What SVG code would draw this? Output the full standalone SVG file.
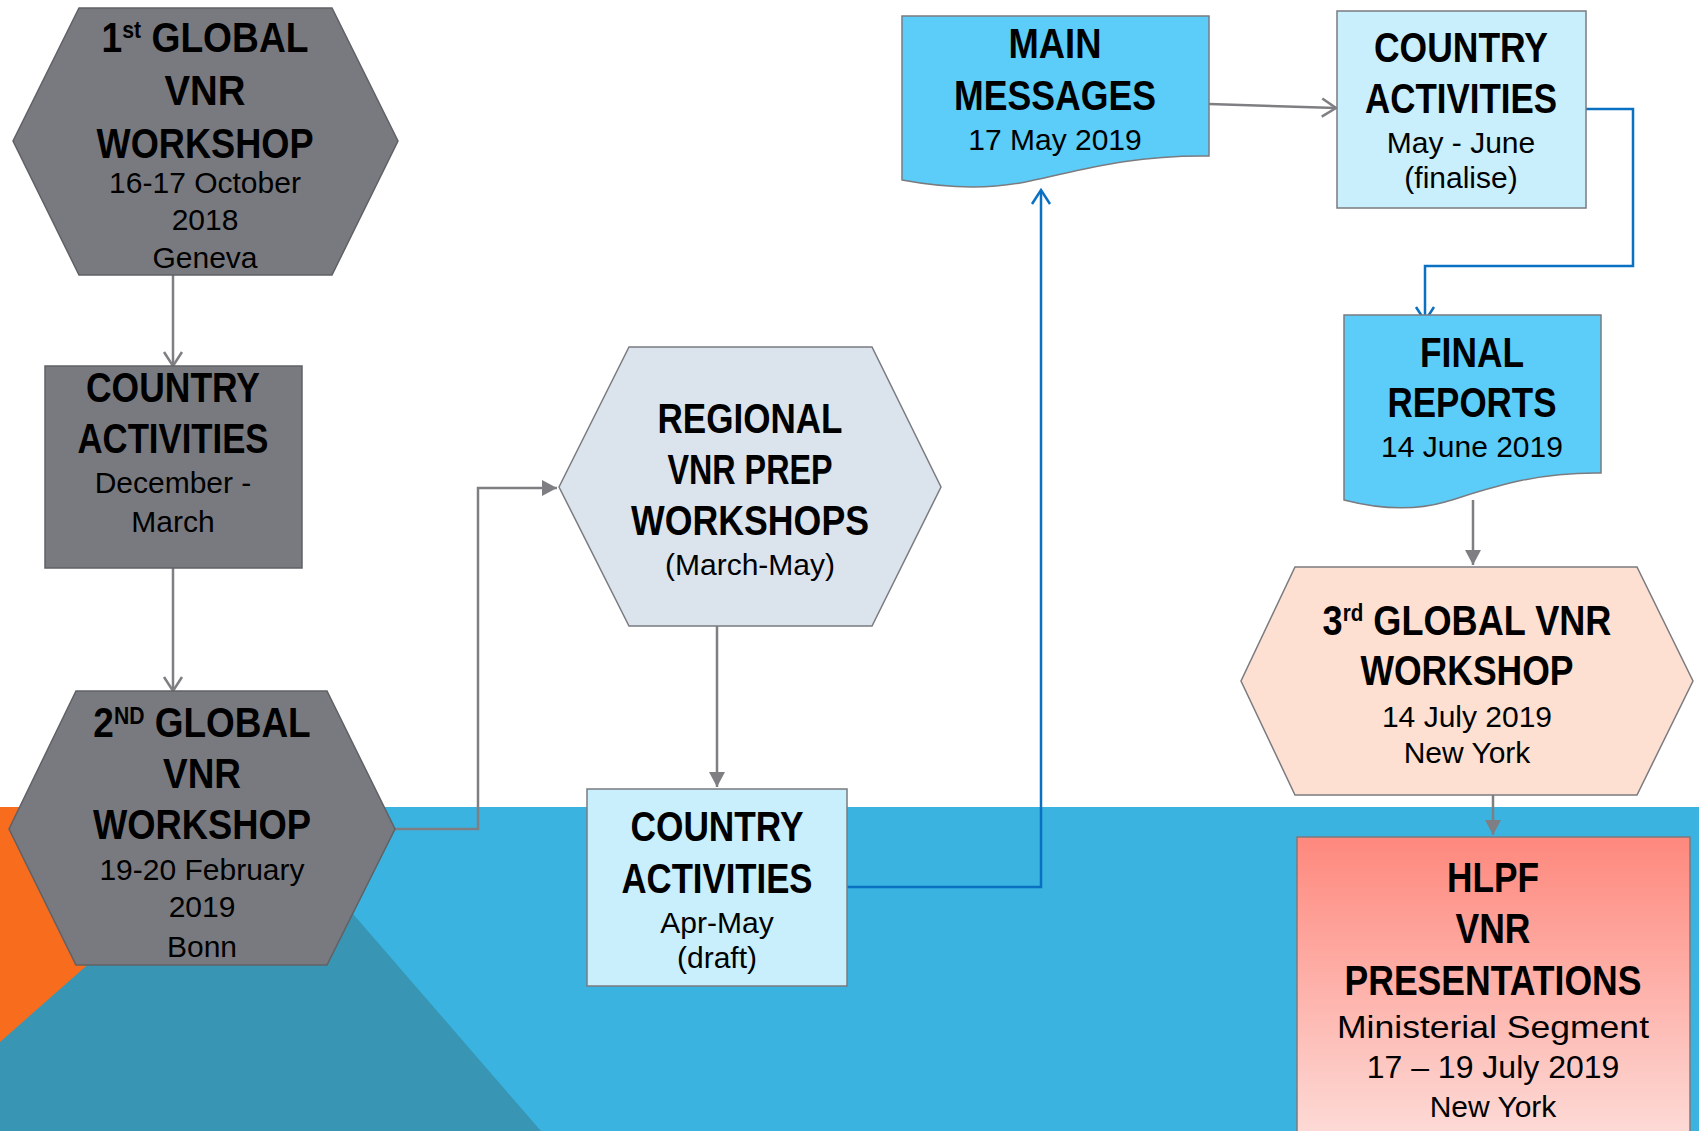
<svg xmlns="http://www.w3.org/2000/svg" width="1699" height="1131" viewBox="0 0 1699 1131">
<style>
.t{font-family:"Liberation Sans","Arial",sans-serif;font-size:42px;font-weight:bold;fill:#000;text-anchor:middle}
.s{font-family:"Liberation Sans","Arial",sans-serif;font-size:30px;fill:#000;text-anchor:middle}
.sup{font-size:24px}
.grey{fill:#797a7f;stroke:#606166;stroke-width:1.5}
.lb{fill:#c9eefc;stroke:#7a7b80;stroke-width:1.5}
.doc{fill:#5bcdf8;stroke:#7a7b80;stroke-width:1.5}
.cg{fill:none;stroke:#7f7f83;stroke-width:2.5}
.cb{fill:none;stroke:#0a70c2;stroke-width:2.5}
</style>
<defs>
<marker id="og" markerUnits="userSpaceOnUse" markerWidth="20" markerHeight="22" refX="16" refY="11" orient="auto"><path d="M2,2 L16,11 L2,20" fill="none" stroke="#7f7f83" stroke-width="2.5"/></marker>
<marker id="ob" markerUnits="userSpaceOnUse" markerWidth="20" markerHeight="22" refX="16" refY="11" orient="auto"><path d="M2,2 L16,11 L2,20" fill="none" stroke="#0a70c2" stroke-width="2.5"/></marker>
<marker id="fg" markerUnits="userSpaceOnUse" markerWidth="16" markerHeight="16" refX="15" refY="8" orient="auto"><path d="M0,0 L15,8 L0,16 Z" fill="#7f7f83"/></marker>
<linearGradient id="hlpf" x1="0" y1="0" x2="0" y2="1"><stop offset="0" stop-color="#fe887d"/><stop offset="1" stop-color="#fddbd7"/></linearGradient>
</defs>
<rect x="0" y="0" width="1699" height="1131" fill="#ffffff"/>
<g id="background">
<rect x="0" y="807" width="1699" height="324" fill="#3ab3e0"/>
<rect x="0" y="807" width="260" height="324" fill="#f86c1e"/>
<polygon points="0,1042 263,810 541,1131 0,1131" fill="#3896b4"/>
</g>
<g id="connectors">
<path class="cg" d="M173,275 V366" marker-end="url(#og)"/>
<path class="cg" d="M173,568 V691" marker-end="url(#og)"/>
<path class="cg" d="M395,829 H478 V488 H557" marker-end="url(#fg)"/>
<path class="cg" d="M717,626 V787" marker-end="url(#fg)"/>
<path class="cb" d="M847,887 H1041 V190" marker-end="url(#ob)"/>
<path class="cg" d="M1209,104 L1336,108" marker-end="url(#og)"/>
<path class="cb" d="M1586,109 H1633 V266 H1425 V321" marker-end="url(#ob)"/>
<path class="cg" d="M1473,500 V565" marker-end="url(#fg)"/>
<path class="cg" d="M1493,795 V835" marker-end="url(#fg)"/>
</g>
<g id="hex1">
<polygon class="grey" points="79,8 332,8 398,141 332,275 79,275 13,141"/>
<text class="t" transform="translate(205,52) scale(0.886,1)" x="0" y="0">1<tspan class="sup" baseline-shift="14">st</tspan> GLOBAL</text>
<text class="t" x="205" y="105" textLength="81" lengthAdjust="spacingAndGlyphs">VNR</text>
<text class="t" x="205" y="158" textLength="217" lengthAdjust="spacingAndGlyphs">WORKSHOP</text>
<text class="s" x="205" y="193">16-17 October</text>
<text class="s" x="205" y="230">2018</text>
<text class="s" x="205" y="268">Geneva</text>
</g>
<g id="ca1">
<rect class="grey" x="45" y="366" width="257" height="202"/>
<text class="t" x="173" y="402" textLength="174" lengthAdjust="spacingAndGlyphs">COUNTRY</text>
<text class="t" x="173" y="453" textLength="191" lengthAdjust="spacingAndGlyphs">ACTIVITIES</text>
<text class="s" x="173" y="493">December -</text>
<text class="s" x="173" y="532">March</text>
</g>
<g id="hex2">
<polygon class="grey" points="76,691 327,691 395,829 327,965 76,965 9,829"/>
<text class="t" transform="translate(202,737) scale(0.88,1)" x="0" y="0">2<tspan class="sup" baseline-shift="13">ND</tspan> GLOBAL</text>
<text class="t" x="202" y="788" textLength="78" lengthAdjust="spacingAndGlyphs">VNR</text>
<text class="t" x="202" y="839" textLength="218" lengthAdjust="spacingAndGlyphs">WORKSHOP</text>
<text class="s" x="202" y="880">19-20 February</text>
<text class="s" x="202" y="917">2019</text>
<text class="s" x="202" y="957">Bonn</text>
</g>
<g id="regional">
<polygon points="629,347 872,347 941,487 872,626 629,626 559,487" fill="#dbe3ec" stroke="#7a7b80" stroke-width="1.5"/>
<text class="t" x="750" y="433" textLength="185" lengthAdjust="spacingAndGlyphs">REGIONAL</text>
<text class="t" x="750" y="484" textLength="165" lengthAdjust="spacingAndGlyphs">VNR PREP</text>
<text class="t" x="750" y="535" textLength="238" lengthAdjust="spacingAndGlyphs">WORKSHOPS</text>
<text class="s" x="750" y="575">(March-May)</text>
</g>
<g id="ca-draft">
<rect class="lb" x="587" y="789" width="260" height="197"/>
<text class="t" x="717" y="841" textLength="173" lengthAdjust="spacingAndGlyphs">COUNTRY</text>
<text class="t" x="717" y="893" textLength="191" lengthAdjust="spacingAndGlyphs">ACTIVITIES</text>
<text class="s" x="717" y="933">Apr-May</text>
<text class="s" x="717" y="968">(draft)</text>
</g>
<g id="main-messages">
<path class="doc" d="M902,16 H1209 V156 C1125,155 1075,172 1030,181 C990,190 945,188 902,180 Z"/>
<text class="t" x="1055" y="58" textLength="93" lengthAdjust="spacingAndGlyphs">MAIN</text>
<text class="t" x="1055" y="110" textLength="202" lengthAdjust="spacingAndGlyphs">MESSAGES</text>
<text class="s" x="1055" y="150">17 May 2019</text>
</g>
<g id="ca-finalise">
<rect class="lb" x="1337" y="11" width="249" height="197"/>
<text class="t" x="1461" y="62" textLength="174" lengthAdjust="spacingAndGlyphs">COUNTRY</text>
<text class="t" x="1461" y="113" textLength="192" lengthAdjust="spacingAndGlyphs">ACTIVITIES</text>
<text class="s" x="1461" y="153">May - June</text>
<text class="s" x="1461" y="188">(finalise)</text>
</g>
<g id="final-reports">
<path class="doc" d="M1344,315 H1601 V473 C1530,472 1485,490 1445,502 C1410,512 1375,508 1344,500 Z"/>
<text class="t" x="1472" y="367" textLength="104" lengthAdjust="spacingAndGlyphs">FINAL</text>
<text class="t" x="1472" y="417" textLength="169" lengthAdjust="spacingAndGlyphs">REPORTS</text>
<text class="s" x="1472" y="457">14 June 2019</text>
</g>
<g id="hex3">
<polygon points="1295,567 1637,567 1693,681 1637,795 1295,795 1241,681" fill="#fde0d1" stroke="#7a7b80" stroke-width="1.5"/>
<text class="t" transform="translate(1467,635) scale(0.86,1)" x="0" y="0">3<tspan class="sup" baseline-shift="14">rd</tspan> GLOBAL VNR</text>
<text class="t" x="1467" y="685" textLength="213" lengthAdjust="spacingAndGlyphs">WORKSHOP</text>
<text class="s" x="1467" y="727">14 July 2019</text>
<text class="s" x="1467" y="763">New York</text>
</g>
<g id="hlpf">
<rect x="1297" y="837" width="393" height="300" fill="url(#hlpf)" stroke="#7a7b80" stroke-width="1.5"/>
<text class="t" x="1493" y="892" textLength="92" lengthAdjust="spacingAndGlyphs">HLPF</text>
<text class="t" x="1493" y="943" textLength="75" lengthAdjust="spacingAndGlyphs">VNR</text>
<text class="t" x="1493" y="995" textLength="297" lengthAdjust="spacingAndGlyphs">PRESENTATIONS</text>
<text class="s" x="1493" y="1038" style="font-size:32px" textLength="312" lengthAdjust="spacingAndGlyphs">Ministerial Segment</text>
<text class="s" x="1493" y="1078" style="font-size:32px">17 – 19 July 2019</text>
<text class="s" x="1493" y="1117" style="font-size:30px">New York</text>
</g>
</svg>
